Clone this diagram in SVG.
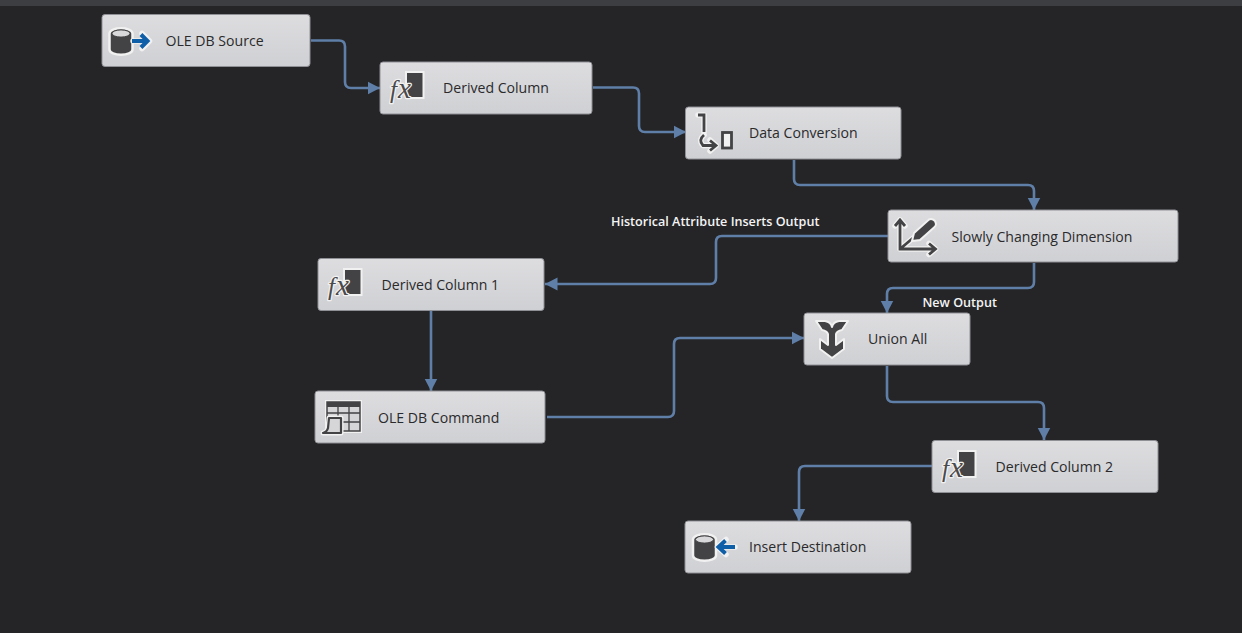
<svg xmlns="http://www.w3.org/2000/svg" width="1242" height="633" viewBox="0 0 1242 633">
<style>
.box{fill:url(#nodeFill);stroke:#8f9095;stroke-width:1}
.lbl{font-family:"Open Sans","Noto Sans",sans-serif;font-size:14.1px;fill:#2a2a2c}
.out{font-family:"Open Sans","Noto Sans",sans-serif;font-size:12.6px;font-weight:600;fill:#f4f4f4}
.wire{fill:none;stroke:#5f7fa8;stroke-width:2.6;stroke-linejoin:round}
.hl{fill:none;stroke:#f1f1f1;stroke-width:5.500;stroke-linejoin:round;stroke-linecap:round}
.dl{fill:none;stroke:#434345;stroke-width:2.800}
.fx{font-family:"Liberation Serif",serif;font-style:italic;font-size:25px;fill:#4a4a4c;stroke:#f1f1f1;stroke-width:2.500;paint-order:stroke;stroke-linejoin:round}
</style>
<defs>
<linearGradient id="nodeFill" x1="0" y1="0" x2="0" y2="1"><stop offset="0" stop-color="#dddde0"/><stop offset="1" stop-color="#cfd0d3"/></linearGradient>
<marker id="arr" markerUnits="userSpaceOnUse" markerWidth="14" markerHeight="14" refX="12.500" refY="7" orient="auto"><path d="M0 0.500L12.500 7L0 13.500Z" fill="#5f7fa8"/></marker>
<g id="fxIcon">
<rect x="17" y="-16" width="17.500" height="26" fill="#434345" stroke="#f1f1f1" stroke-width="2"/>
<text class="fx" x="1" y="9.500">f<tspan font-size="29" dx="1">x</tspan></text>
</g>
<g id="cyl">
<path d="M0-8V8C0 15 23 15 23 8V-8C23-15 0-15 0-8Z" fill="#434345" stroke="#f1f1f1" stroke-width="2.500"/>
<ellipse cx="11.500" cy="-8" rx="9" ry="3.600" fill="#d8d8db" stroke="#434345" stroke-width="1"/>
</g>
</defs>
<rect width="1242" height="633" fill="#252527"/>
<rect width="1242" height="6" fill="#3d3e42"/>
<g id="connectors">
<path class="wire" marker-end="url(#arr)" d="M311 40.500H339Q345 40.500 345 46.500V82Q345 88 351 88H380"/>
<path class="wire" marker-end="url(#arr)" d="M593 87.500H633Q639 87.500 639 93.500V126Q639 132 645 132H686"/>
<path class="wire" marker-end="url(#arr)" d="M794 160V179Q794 185 800 185H1028Q1034 185 1034 191V210"/>
<path class="wire" marker-end="url(#arr)" d="M888 236H722Q716 236 716 242V278Q716 284 710 284H545"/>
<path class="wire" marker-end="url(#arr)" d="M1034 263V282Q1034 288 1028 288H893Q887 288 887 294V313"/>
<path class="wire" marker-end="url(#arr)" d="M431 311V391"/>
<path class="wire" marker-end="url(#arr)" d="M547 417H668Q674 417 674 411V344Q674 338 680 338H804"/>
<path class="wire" marker-end="url(#arr)" d="M887 366V396Q887 402 893 402H1038Q1044 402 1044 408V440"/>
<path class="wire" marker-end="url(#arr)" d="M932 466H805Q799 466 799 472V521"/>
</g>
<text class="out" x="611" y="226">Historical Attribute Inserts Output</text>
<text class="out" x="922.500" y="307">New Output</text>
<g id="ole-db-source">
<rect class="box" x="102" y="14.500" width="208" height="52" rx="3"/>
<use href="#cyl" x="109.500" y="41.500"/>
<path class="hl" stroke-width="7" d="M133 41H148M142 33.500L149.500 41L142 48.500"/>
<path fill="none" stroke="#0f5ea8" stroke-width="4" d="M132 41H147M141 34.500L147.500 41L141 47.500"/>
<text class="lbl" x="165.500" y="46">OLE DB Source</text>
</g>
<g id="derived-column">
<rect class="box" x="380" y="62" width="212" height="52" rx="3"/>
<use href="#fxIcon" x="389" y="88"/>
<text class="lbl" x="443" y="93">Derived Column</text>
</g>
<g id="data-conversion">
<rect class="box" x="685.500" y="107" width="215.500" height="52" rx="3"/>
<path class="hl" d="M698 115H704V132M704 135Q698 140 703 145.500H716M710 140L716 145.500L710 151"/>
<path class="dl" d="M698 115H704V132M704 135Q698 140 703 145.500H716M710 140.500L716 145.500L710 150.500"/>
<rect x="722.500" y="132.500" width="9" height="15.500" fill="#f1f1f1" stroke="#434345" stroke-width="2.800"/>
<text class="lbl" x="749" y="138">Data Conversion</text>
</g>
<g id="slowly-changing-dimension">
<rect class="box" x="888" y="210" width="290" height="52" rx="3"/>
<path class="hl" d="M900 220V249H935M895 226L900 220L905 226M929 243.500L935.500 249L929 254.500M900 249L913 238"/>
<path class="dl" d="M900 220V249H935M895 226L900 220L905 226M929 243.500L935.500 249L929 254.500M900 249L913 238"/>
<path d="M914 233L929 219.500Q932 218 935 221L936 224Q936 226 934 227.500L920 240L912 241Z" fill="#434345" stroke="#f1f1f1" stroke-width="2"/>
<text class="lbl" x="951.500" y="242">Slowly Changing Dimension</text>
</g>
<g id="derived-column-1">
<rect class="box" x="318" y="258.500" width="226" height="52" rx="3"/>
<use href="#fxIcon" x="327" y="285"/>
<text class="lbl" x="381.500" y="290">Derived Column 1</text>
</g>
<g id="union-all">
<rect class="box" x="804" y="313" width="166" height="52" rx="3"/>
<path d="M816 321H825Q831 322 832 327Q833 322 839 321H848L842 330Q837 331 836 334V345L844 339V349L832 358L820 349V339L828 345V334Q827 331 822 330Z" fill="#434345" stroke="#f1f1f1" stroke-width="2" stroke-linejoin="round"/>
<text class="lbl" x="868" y="344">Union All</text>
</g>
<g id="ole-db-command">
<rect class="box" x="315" y="391" width="230" height="52" rx="3"/>
<rect x="325" y="400" width="37" height="33" fill="#f1f1f1"/>
<rect x="327" y="402" width="33" height="29" fill="#d6d6d9" stroke="#434345" stroke-width="1.500"/>
<rect x="327" y="402" width="33" height="5" fill="#434345"/>
<path fill="none" stroke="#434345" stroke-width="1.300" d="M327 413H360M327 422H360M338 407V431M349 407V431"/>
<path d="M329 418H341V433H323Q327 432 328 428Z" fill="#d6d6d9" stroke="#f1f1f1" stroke-width="5" stroke-linejoin="round"/>
<path d="M329 418H341V433H323Q327 432 328 428Z" fill="#d6d6d9" stroke="#434345" stroke-width="2.200" stroke-linejoin="round"/>
<text class="lbl" x="378" y="423">OLE DB Command</text>
</g>
<g id="derived-column-2">
<rect class="box" x="932" y="440.500" width="226" height="52" rx="3"/>
<use href="#fxIcon" x="941" y="467"/>
<text class="lbl" x="995.500" y="472">Derived Column 2</text>
</g>
<g id="insert-destination">
<rect class="box" x="685" y="521" width="226" height="52" rx="3"/>
<use href="#cyl" x="693" y="547.500"/>
<path class="hl" stroke-width="7" d="M735 547H718M726 539.500L717.500 547L726 554.500"/>
<path fill="none" stroke="#0f5ea8" stroke-width="4" d="M735 547H719M725.500 540.500L718.500 547L725.500 553.500"/>
<text class="lbl" x="749" y="552">Insert Destination</text>
</g>
</svg>
